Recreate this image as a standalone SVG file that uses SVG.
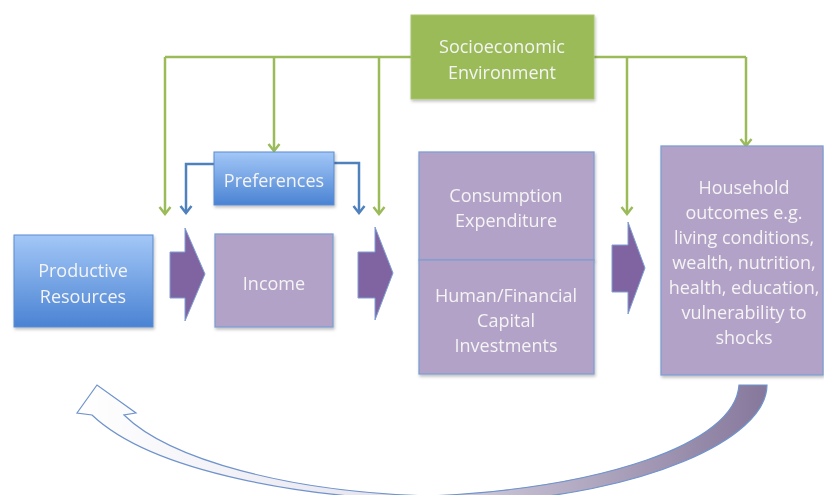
<svg xmlns="http://www.w3.org/2000/svg" width="824" height="495" viewBox="0 0 824 495">
<style>
.t{font-family:"Open Sans","Noto Sans",sans-serif;font-size:18px;fill:#f4f4f4;text-anchor:middle}
.purple{fill:#b3a2c7;stroke:#7f9fd2;stroke-width:1.3}
.blue{fill:url(#bg);stroke:#5b8bd0;stroke-width:1}
.green{fill:#9bbb59;stroke:#a9c56e;stroke-width:1}
.gl{fill:none;stroke:#9bbb59;stroke-width:2.5}
.bl{fill:none;stroke:#4f81bd;stroke-width:2.5}
.blk{fill:#8064a2;stroke:#7f9fd2;stroke-width:1}
</style>
<defs>
<linearGradient id="bg" x1="0" y1="0" x2="0" y2="1">
<stop offset="0" stop-color="#a3c7f7"/>
<stop offset="1" stop-color="#4a83d3"/>
</linearGradient>
<linearGradient id="cg" x1="80" y1="0" x2="770" y2="0" gradientUnits="userSpaceOnUse">
<stop offset="0" stop-color="#ffffff"/>
<stop offset="0.4" stop-color="#e8e6f0"/>
<stop offset="1" stop-color="#85779b"/>
</linearGradient>
<marker id="ga" markerWidth="12" markerHeight="14" refX="10" refY="7" orient="auto" markerUnits="userSpaceOnUse" viewBox="0 0 12 14">
<polyline points="3,1.5 10,7 3,12.5" fill="none" stroke="#9bbb59" stroke-width="2.5"/>
</marker>
<marker id="ba" markerWidth="12" markerHeight="14" refX="10" refY="7" orient="auto" markerUnits="userSpaceOnUse" viewBox="0 0 12 14">
<polyline points="3,1.5 10,7 3,12.5" fill="none" stroke="#4f81bd" stroke-width="2.5"/>
</marker>
<filter id="sh" x="-10%" y="-10%" width="130%" height="130%">
<feDropShadow dx="1" dy="2" stdDeviation="1.5" flood-color="#000" flood-opacity="0.25"/>
</filter>
</defs>

<g id="connectors">
<path class="gl" d="M165,57 H746"/>
<path class="gl" d="M165,57 V214" marker-end="url(#ga)"/>
<path class="gl" d="M274,57 V151" marker-end="url(#ga)"/>
<path class="gl" d="M379,57 V214" marker-end="url(#ga)"/>
<path class="gl" d="M627,57 V214" marker-end="url(#ga)"/>
<path class="gl" d="M746,57 V146" marker-end="url(#ga)"/>
<path class="bl" d="M214,164 H186 V213" marker-end="url(#ba)"/>
<path class="bl" d="M334,163 H359 V213" marker-end="url(#ba)"/>
<polygon class="blk" points="170,252 185,252 185,228 205,274 185,321 185,298 170,298"/>
<polygon class="blk" points="358,252 375,252 375,227 393,273 375,320 375,298 358,298"/>
<polygon class="blk" points="612,245 628,245 628,222 645,268 628,314 628,292 612,292"/>
<path d="M767,385 C767,440 640,495 480,502 C300,502 150,470 92,415 L77,413 L97,385 L136,413 L124,415 C170,460 290,492 430,496 C600,488 735,445 739,385 Z" fill="url(#cg)" stroke="#6f93cc" stroke-width="1.2"/>
</g>

<g id="socioeconomic" filter="url(#sh)">
<rect class="green" x="411" y="15" width="183" height="84"/>
<text class="t" x="502" y="53">Socioeconomic</text>
<text class="t" x="502" y="79">Environment</text>
</g>

<g id="preferences" filter="url(#sh)">
<rect class="blue" x="214" y="152" width="120" height="53"/>
<text class="t" x="274" y="187">Preferences</text>
</g>

<g id="productive" filter="url(#sh)">
<rect class="blue" x="14" y="235" width="139" height="92"/>
<text class="t" x="83" y="277">Productive</text>
<text class="t" x="83" y="303">Resources</text>
</g>

<g id="income" filter="url(#sh)">
<rect class="purple" x="215" y="234" width="118" height="93"/>
<text class="t" x="274" y="290">Income</text>
</g>

<g id="consumption" filter="url(#sh)">
<rect class="purple" x="419" y="152" width="175" height="108"/>
<text class="t" x="506" y="202">Consumption</text>
<text class="t" x="506" y="227">Expenditure</text>
</g>

<g id="investments" filter="url(#sh)">
<rect class="purple" x="419" y="260" width="175" height="114"/>
<text class="t" x="506" y="302">Human/Financial</text>
<text class="t" x="506" y="327">Capital</text>
<text class="t" x="506" y="352">Investments</text>
</g>

<g id="household" filter="url(#sh)">
<rect class="purple" x="661" y="146" width="162" height="229"/>
<text class="t" x="744" y="194">Household</text>
<text class="t" x="744" y="219">outcomes e.g.</text>
<text class="t" x="744" y="244">living conditions,</text>
<text class="t" x="744" y="269">wealth, nutrition,</text>
<text class="t" x="744" y="294">health, education,</text>
<text class="t" x="744" y="319">vulnerability to</text>
<text class="t" x="744" y="344">shocks</text>
</g>
</svg>
